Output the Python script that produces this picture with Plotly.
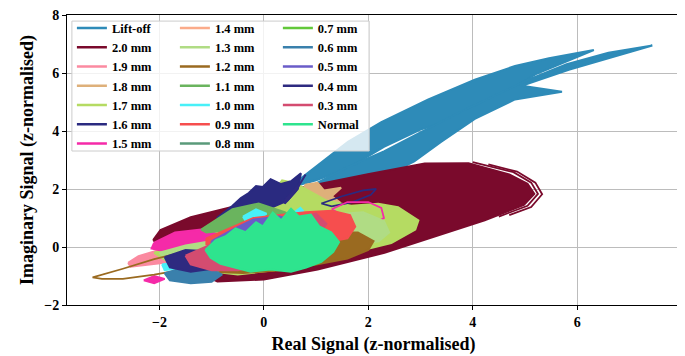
import plotly.graph_objects as go

# ---------------- data ----------------
series_names = ["Lift-off", "2.0 mm", "1.9 mm", "1.8 mm", "1.7 mm", "1.6 mm", "1.5 mm",
                "1.4 mm", "1.3 mm", "1.2 mm", "1.1 mm", "1.0 mm", "0.9 mm", "0.8 mm",
                "0.7 mm", "0.6 mm", "0.5 mm", "0.4 mm", "0.3 mm", "Normal"]

x_ticks = [-2, 0, 2, 4, 6]
y_ticks = [-2, 0, 2, 4, 6, 8]

# filled trajectory envelopes (real part, imaginary part), one list of polygons per series
liftoff_x = [[0.4, 0.71, 1.61, 2.25, 3.15, 4.04, 4.81, 5.46, 6.32, 6.10, 5.2, 4.4, 3.7, 3.0, 2.3, 1.6, 1.0],
             [0.6, 0.9, 1.6, 2.3, 3.0, 3.7, 4.4, 5.1, 5.8, 6.6, 7.44, 6.73, 5.84, 4.94, 5.38, 5.71, 4.81, 4.04, 3.40, 2.88, 2.25, 1.5]]
liftoff_y = [[2.0, 2.37, 3.63, 4.31, 5.09, 5.77, 6.24, 6.51, 6.79, 6.62, 5.95, 5.05, 4.45, 4.05, 3.45, 2.7, 2.3],
             [1.9, 2.1, 2.75, 3.3, 3.95, 4.6, 5.2, 5.8, 6.3, 6.7, 6.95, 6.58, 6.11, 5.56, 5.43, 5.35, 5.09, 4.42, 3.63, 2.95, 2.38, 2.0]]

mm20_x = [[-2.12, -1.98, -1.40, -0.63, 0.71, 1.99, 3.08, 3.92, 4.7, 5.05, 5.18, 4.98, 4.23, 3.27, 2.31, 1.03, 0.00, -0.89, -1.60]]
mm20_y = [[0.24, 0.58, 1.03, 1.37, 2.04, 2.51, 2.88, 2.89, 2.5, 2.18, 1.83, 1.45, 0.92, 0.35, -0.20, -0.78, -1.12, -1.19, -0.60]]

mm19_x = [[-2.6, -2.4, -2.1, -1.6, -1.0, -0.3, 0.5, 1.0, 1.1, 0.6, -0.2, -1.0, -1.7, -2.2, -2.55]]
mm19_y = [[-0.55, -0.32, -0.15, 0.05, 0.35, 0.7, 1.3, 1.9, 1.6, 0.8, 0.2, -0.25, -0.5, -0.62, -0.68]]

mm18_x = [[-0.3, 0.1, 0.4, 0.46, 0.71, 0.8, 1.03, 1.15, 1.48, 1.3, 1.45, 1.2, 0.9, 0.5, 0.0, -0.5]]
mm18_y = [[0.9, 1.4, 1.8, 2.1, 1.83, 2.15, 2.21, 1.95, 2.04, 1.75, 1.55, 1.3, 1.1, 0.9, 0.6, 0.5]]

mm17_x = [[-2.1, -1.5, -0.7, 0.0, 0.35, 0.6, 1.2, 1.67, 2.19, 2.57, 2.96, 2.9, 2.44, 1.8, 1.03, 0.2, -0.5, -1.2, -1.8]]
mm17_y = [[-0.2, 0.1, 0.9, 1.5, 2.3, 2.2, 1.6, 1.42, 1.49, 1.37, 0.92, 0.6, 0.14, -0.15, -0.44, -0.8, -0.95, -0.8, -0.55]]

mm16_x = [[-0.9, -0.73, -0.6, -0.44, -0.29, -0.15, -0.02, 0.13, 0.33, 0.52, 0.71, 0.65, 0.45, 0.2, -0.25, -0.6]]
mm16_y = [[1.0, 1.25, 1.42, 1.69, 1.86, 2.1, 2.07, 2.34, 2.17, 2.27, 2.54, 2.0, 1.6, 1.4, 1.08, 0.95]]

mm15_x = [[-2.1, -1.7, -1.2, -0.8, -0.9, -1.4, -1.9, -2.15], [-2.3, -2.1, -1.9, -2.1]]
mm15_y = [[0.15, 0.5, 0.6, 0.4, 0.0, -0.2, -0.15, -0.05], [-1.15, -1.0, -1.1, -1.25]]

mm14_x = [[1.2, 1.6, 2.0, 2.2, 2.15, 1.9, 1.5, 1.2]]
mm14_y = [[0.9, 1.05, 1.0, 0.7, 0.35, 0.2, 0.3, 0.5]]

mm13_x = [[0.6, 1.0, 1.5, 1.9, 2.3, 2.4, 2.2, 1.8, 1.3, 0.8, 0.5], [-2.0, -1.5, -1.0, -0.9, -1.4, -1.9]]
mm13_y = [[0.9, 1.1, 1.15, 1.2, 0.9, 0.5, 0.2, 0.1, 0.1, 0.3, 0.6], [-0.2, 0.05, 0.2, 0.0, -0.25, -0.4]]

mm12_x = [[-1.8, -1.0, -0.2, 0.5, 1.2, 1.8, 2.1, 2.0, 1.6, 1.0, 0.3, -0.4, -1.0, -1.6]]
mm12_y = [[-0.4, -0.1, 0.2, 0.4, 0.5, 0.5, 0.2, -0.1, -0.4, -0.6, -0.8, -0.9, -0.85, -0.7]]

mm11_x = [[-1.2, -0.6, -0.1, 0.4, 0.9, 1.2, 1.0, 0.5, 0.0, -0.6, -1.1]]
mm11_y = [[0.6, 1.3, 1.5, 1.2, 0.7, 0.1, -0.2, 0.0, 0.4, 0.6, 0.5]]

mm10_x = [[-0.4, -0.15, 0.05, -0.1, -0.35], [0.55, 0.7, 0.75, 0.6], [-1.95, -1.75, -1.7, -1.9]]
mm10_y = [[1.05, 1.3, 1.15, 0.95, 0.9], [1.15, 1.35, 1.25, 1.05], [-0.6, -0.55, -0.75, -0.8]]

mm09_x = [[-1.1, -0.6, -0.2, 0.3, 0.8, 1.3, 1.65, 1.75, 1.6, 1.3, 0.9, 0.4, -0.2, -0.8, -1.1]]
mm09_y = [[0.3, 0.7, 1.0, 1.1, 1.2, 1.25, 1.1, 0.7, 0.3, 0.2, 0.25, 0.4, 0.3, 0.15, 0.1]]

mm08_x = [[-1.5, -1.1, -0.8, -1.0, -1.4]]
mm08_y = [[-0.6, -0.5, -0.75, -0.95, -0.9]]

mm07_x = [[0.5, 0.9, 1.2, 1.0, 0.6], [-1.6, -1.3, -1.25, -1.55]]
mm07_y = [[0.1, 0.45, 0.3, -0.05, -0.1], [-0.3, -0.2, -0.45, -0.5]]

mm06_x = [[-1.9, -1.5, -1.1, -0.8, -1.0, -1.4, -1.8]]
mm06_y = [[-0.9, -0.7, -0.7, -0.95, -1.2, -1.25, -1.15]]

mm05_x = [[-1.0, -0.6, -0.2, 0.3, 0.6, 0.7, 0.3, -0.2, -0.7, -1.0]]
mm05_y = [[0.2, 0.6, 0.95, 1.05, 0.9, 0.6, 0.4, 0.2, 0.0, 0.0]]

mm04_x = [[-1.9, -1.5, -1.1, -0.9, -1.0, -1.4, -1.8], [0.4, 0.7, 0.8, 0.6, 0.4]]
mm04_y = [[-0.35, -0.1, -0.15, -0.4, -0.75, -0.85, -0.7], [1.6, 2.2, 2.5, 1.9, 1.5]]

mm03_x = [[-1.5, -1.0, -0.5, 0.0, 0.5, 1.0, 1.2, 1.0, 0.5, 0.0, -0.5, -1.0, -1.4]]
mm03_y = [[-0.3, 0.1, 0.4, 0.6, 0.9, 1.15, 0.8, 0.3, -0.2, -0.6, -0.8, -0.8, -0.6]]

normal_x = [[-1.12, -0.92, -0.73, -0.54, -0.35, -0.15, -0.02, 0.17, 0.33, 0.52, 0.67, 0.90, 1.06, 1.29,
             1.44, 1.33, 1.10, 0.81, 0.52, 0.13, -0.25, -0.54, -0.83, -1.02]]
normal_y = [[-0.10, 0.24, 0.37, 0.64, 0.51, 0.85, 0.71, 1.19, 0.92, 1.32, 1.05, 1.12, 0.71, 0.51,
             0.17, -0.17, -0.51, -0.71, -0.85, -0.78, -0.85, -0.71, -0.58, -0.37]]

# open loops drawn as lines only (series index, x, y)
loop_series = [1, 1, 9, 5, 6, 6]
loop_x = [[4.0, 4.78, 5.12, 5.25, 5.05, 4.5],
          [4.3, 4.85, 5.2, 5.33, 5.12, 4.7],
          [-1.6, -2.1, -2.7, -3.1, -3.28, -3.1, -2.7, -2.1, -1.6],
          [1.1, 1.5, 1.9, 2.15, 2.05, 1.7, 1.3, 1.1],
          [1.3, 1.6, 2.0, 2.25, 2.3, 2.1, 1.8, 1.5, 1.3],
          [1.5, 1.9, 2.2, 2.3, 2.1]]
loop_y = [[2.93, 2.58, 2.22, 1.83, 1.42, 1.05],
          [2.85, 2.6, 2.22, 1.82, 1.38, 1.1],
          [-0.2, -0.42, -0.75, -0.95, -1.05, -1.1, -1.1, -0.95, -0.8],
          [1.5, 1.75, 1.95, 2.0, 1.8, 1.55, 1.4, 1.5],
          [1.3, 1.55, 1.55, 1.35, 1.0, 0.8, 0.95, 1.1, 1.3],
          [0.9, 1.0, 0.85, 0.55, 0.4]]

# ---------------- styles ----------------
colors = ["#2e8bb8", "#7a0a2c", "#fb8aa0", "#deb07a", "#b5db62", "#2a2a80", "#f52aa8",
          "#fbab8a", "#b0dc84", "#9a6a20", "#6ab45e", "#48f0f8", "#f64e4e", "#5a9a7a",
          "#62c83a", "#3a80ac", "#6a5cc8", "#2e2a80", "#d44c70", "#2ee48e"]

fills = [(liftoff_x, liftoff_y), (mm20_x, mm20_y), (mm19_x, mm19_y), (mm18_x, mm18_y),
         (mm17_x, mm17_y), (mm16_x, mm16_y), (mm15_x, mm15_y), (mm14_x, mm14_y),
         (mm13_x, mm13_y), (mm12_x, mm12_y), (mm11_x, mm11_y), (mm10_x, mm10_y),
         (mm09_x, mm09_y), (mm08_x, mm08_y), (mm07_x, mm07_y), (mm06_x, mm06_y),
         (mm05_x, mm05_y), (mm04_x, mm04_y), (mm03_x, mm03_y), (normal_x, normal_y)]

FONT = "Liberation Serif"

fig = go.Figure()
for i, (xs, ys) in enumerate(fills):
    for px, py in zip(xs, ys):
        fig.add_trace(go.Scatter(x=px + [px[0]], y=py + [py[0]], mode="lines", fill="toself",
                                 fillcolor=colors[i], line=dict(color=colors[i], width=2),
                                 showlegend=False, hoverinfo="skip"))
    for k, s in enumerate(loop_series):
        if s == i:
            fig.add_trace(go.Scatter(x=loop_x[k], y=loop_y[k], mode="lines",
                                     line=dict(color=colors[i], width=1.8),
                                     showlegend=False, hoverinfo="skip"))

# legend entries, three columns of seven
legend_ids = ["legend", "legend2", "legend3"]
for i, name in enumerate(series_names):
    fig.add_trace(go.Scatter(x=[None], y=[None], mode="lines", name=name,
                             line=dict(color=colors[i], width=2.5),
                             legend=legend_ids[i // 7]))

leg_common = dict(yanchor="top", xanchor="left", y=1.006, bgcolor="rgba(0,0,0,0)",
                  borderwidth=0, font=dict(family=FONT, size=12.5, color="black", weight="bold"),
                  tracegroupgap=0)

axis_common = dict(showgrid=True, gridcolor="#bcbcbc", gridwidth=1.2, showline=True,
                   linecolor="black", linewidth=1, mirror=True, ticks="outside", ticklen=4,
                   tickcolor="black", zeroline=False, automargin=False,
                   ticklabeloverflow="allow",
                   tickfont=dict(family=FONT, size=14, color="black", weight="bold"))

# the page body adds an 8 px offset, so the figure is 8 px smaller on each axis
fig.update_layout(
    width=677, height=348,
    margin=dict(l=59, r=5, t=5, b=51),
    plot_bgcolor="white", paper_bgcolor="white",
    xaxis=dict(range=[-3.77, 7.97], tickmode="array", tickvals=x_ticks,
               title=dict(text="Real Signal (z-normalised)", standoff=8,
                          font=dict(family=FONT, size=18, color="black", weight="bold")),
               **axis_common),
    yaxis=dict(range=[-2, 8], tickmode="array", tickvals=y_ticks,
               title=dict(text="Imaginary Signal (z-normalised)", standoff=5,
                          font=dict(family=FONT, size=18, color="black", weight="bold")),
               **axis_common),
    legend=dict(x=0.008, **leg_common),
    legend2=dict(x=0.176, **leg_common),
    legend3=dict(x=0.344, **leg_common),
    shapes=[dict(type="rect", xref="paper", yref="paper", x0=0.008, x1=0.493, y0=0.531, y1=0.979,
                 fillcolor="rgba(255,255,255,0.8)", line=dict(color="#cccccc", width=1),
                 layer="above")],
)

fig.write_html("out.html")
